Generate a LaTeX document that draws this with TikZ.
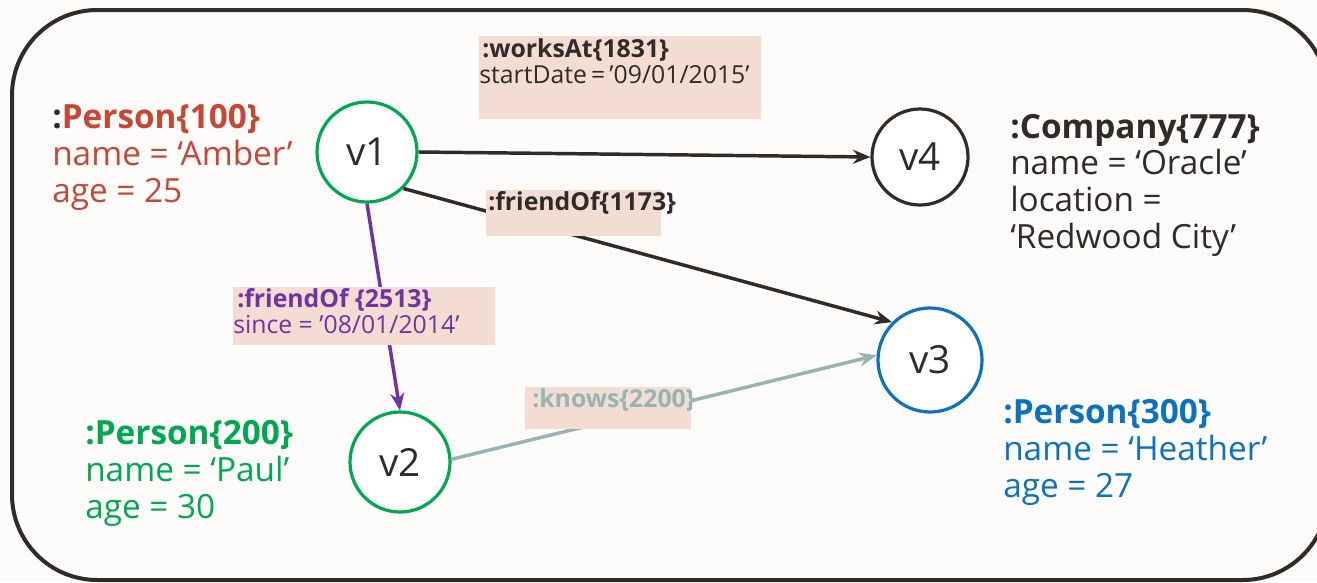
\documentclass[tikz,border=0pt]{standalone}
\usepackage{fontspec}
\setmainfont{Open Sans}
\usetikzlibrary{arrows.meta}

\definecolor{pgRed}{HTML}{C74634}
\definecolor{pgGreen}{HTML}{00A84F}
\definecolor{pgBlue}{HTML}{0B72C1}
\definecolor{pgDark}{HTML}{2F2B29}
\definecolor{pgPurple}{HTML}{7133A0}
\definecolor{pgTeal}{HTML}{95B5B4}
\definecolor{pgLabel}{HTML}{F3DDD2}
\definecolor{pgPaper}{HTML}{FCFBFA}

\tikzset{
  vertex/.style={circle, draw, line width=2.4pt, minimum size=75pt, inner sep=0pt,
    fill=white, text=pgDark, font=\fontsize{29}{34}\selectfont},
  props/.style={anchor=base west, align=left, inner sep=0pt,
    font=\fontsize{25}{27.4}\selectfont},
  labelbox/.style={fill=pgLabel, draw=none, inner sep=0pt, anchor=north west},
  labeltext/.style={anchor=base west, align=left, inner sep=0pt,
    font=\fontsize{18.6}{19.5}\selectfont},
  edge/.style={line width=2.6pt, -{Stealth[length=13pt, width=10.5pt]}},
}

\begin{document}
\begin{tikzpicture}[x=0.75pt, y=-0.75pt]
  \fill[pgPaper] (0,0) rectangle (1317,582);
  \useasboundingbox (0,0) rectangle (1317,582);

  % frame around the graph
  \begin{scope}
    \clip (0,0) rectangle (1317,582);
    \draw[pgDark, line width=3pt, rounded corners=64pt] (12,10) rectangle (1328,580);
  \end{scope}

  % vertices
  \node[vertex, draw=pgGreen] (v1) at (367,152) {v1};
  \node[vertex, draw=pgDark, minimum size=72pt] (v4) at (920,157) {v4};
  \node[vertex, draw=pgBlue, minimum size=78pt] (v3) at (930,360) {v3};
  \node[vertex, draw=pgGreen] (v2) at (400,462) {v2};

  % edges
  \draw[edge, pgDark] (v1.east) -- (v4.west);
  \draw[edge, pgDark] (v1.-45) -- (v3.135);
  \draw[edge, pgPurple] (v1.south) -- (v2.north);
  \draw[edge, pgTeal] (v2.3) -- (v3.175);

  % edge property boxes (laid over the edges)
  \node[labelbox, minimum width=211.5pt, minimum height=62pt] (bWorks) at (479,36) {};
  \node[labelbox, minimum width=131pt, minimum height=34pt] (bFriend1) at (486,190) {};
  \node[labelbox, minimum width=196pt, minimum height=43.5pt] (bFriend2) at (233,287) {};
  \node[labelbox, minimum width=124.5pt, minimum height=31pt] (bKnows) at (525,387) {};

  % edge labels
  \node[labeltext, text=pgDark] (tWorks) at (482,57) {\textbf{:worksAt\{1831\}}};
  \node[labeltext, text=pgDark] (tStart) at (479,83) {startDate\,=\,’09/01/2015’};
  \node[labeltext, text=pgDark] (tFriend1) at (488,210) {\textbf{:friendOf\{1173\}}};
  \node[labeltext, text=pgPurple] (tFriend2) at (237,307)
    {\textbf{:friendOf \{2513\}}};
  \node[labeltext, text=pgPurple] (tSince) at (233,333) {since = ’08/01/2014’};
  \node[labeltext, text=pgTeal] (tKnows) at (532,407) {\textbf{:knows\{2200\}}};

  % vertex properties (anchored at the baseline of the last line)
  \node[props, text=pgRed] (p100) at (52,202)
    {\textbf{\textcolor{pgDark}{:}Person\{100\}}\\name = ‘Amber’\\age = 25};
  \node[props, text=pgDark] (c777) at (1010,248)
    {\textbf{:Company\{777\}}\\name = ‘Oracle’\\location =\\‘Redwood City’};
  \node[props, text=pgGreen] (p200) at (85,518)
    {\textbf{:Person\{200\}}\\name = ‘Paul’\\age = 30};
  \node[props, text=pgBlue] (p300) at (1003,497)
    {\textbf{:Person\{300\}}\\name = ‘Heather’\\age = 27};
\end{tikzpicture}
\end{document}
